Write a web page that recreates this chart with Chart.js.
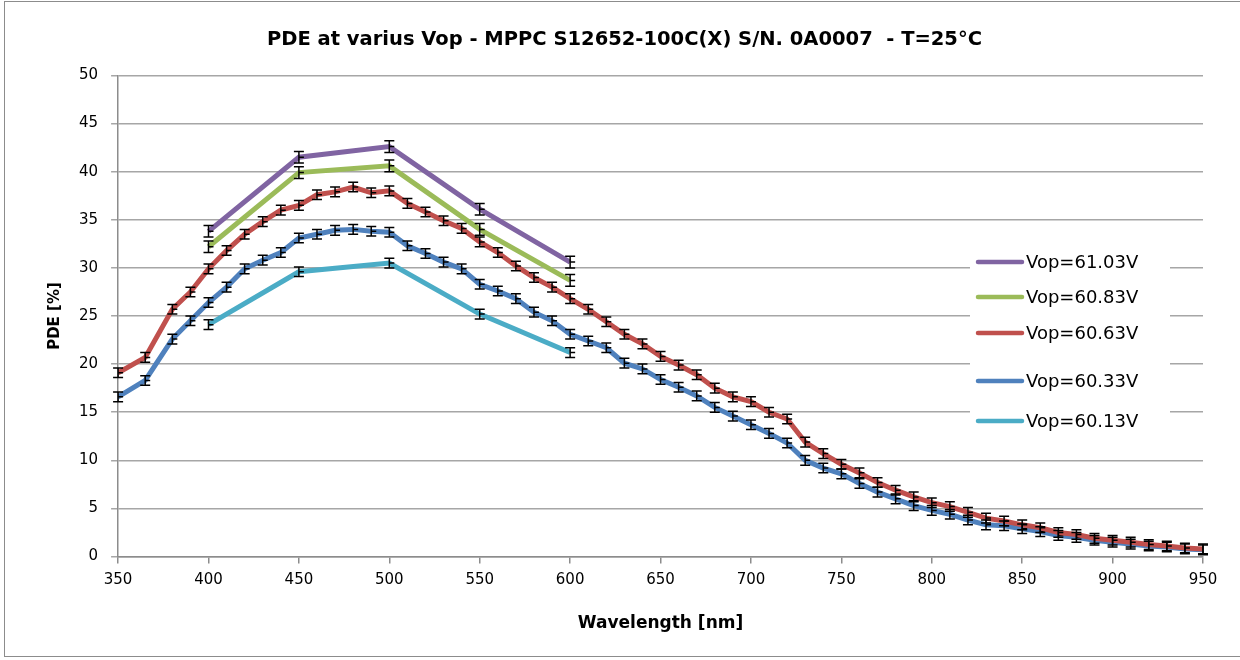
<!DOCTYPE html>
<html>
<head>
<meta charset="utf-8">
<script src="https://cdn.jsdelivr.net/npm/chart.js@4/dist/chart.umd.min.js"></script>
<style>
  html, body { margin: 0; padding: 0; background: #fff; }
  #frame { position: absolute; left: 4px; top: 1px; width: 1250px; height: 654px;
           border-left: 1px solid #8c8c8c; border-top: 1px solid #8c8c8c; border-bottom: 1px solid #8c8c8c; }
  #wrap { position: absolute; left: 0; top: 0; width: 1240px; height: 660px; }
</style>
</head>
<body>
<div id="frame"></div>
<div id="wrap"><canvas id="pdeChart" width="1240" height="660"></canvas></div>
<script>
/* Longueurs d'onde des séries fines (60.63 V et 60.33 V) */
var wlFine = [350, 365, 380, 390, 400, 410, 420, 430, 440, 450, 460, 470, 480, 490, 500,
    510, 520, 530, 540, 550, 560, 570, 580, 590, 600, 610, 620, 630, 640, 650,
    660, 670, 680, 690, 700, 710, 720, 730, 740, 750, 760, 770, 780, 790, 800,
    810, 820, 830, 840, 850, 860, 870, 880, 890, 900, 910, 920, 930, 940, 950];
/* Longueurs d'onde des séries grossières */
var wlCoarse = [400, 450, 500, 550, 600];

var pde6063 = [19.1, 20.7, 25.7, 27.5, 29.9, 31.8, 33.5, 34.8, 36.0, 36.5, 37.6, 37.9, 38.4, 37.8, 38.0,
    36.7, 35.8, 34.9, 34.1, 32.7, 31.6, 30.2, 29.0, 28.0, 26.8, 25.7, 24.4, 23.1, 22.1, 20.8,
    19.9, 18.9, 17.5, 16.6, 16.1, 15.0, 14.3, 11.9, 10.7, 9.6, 8.7, 7.7, 6.9, 6.2, 5.6,
    5.2, 4.6, 4.0, 3.7, 3.3, 3.0, 2.5, 2.3, 1.9, 1.7, 1.5, 1.25, 1.1, 0.9, 0.8];
var pde6033 = [16.6, 18.3, 22.6, 24.5, 26.4, 28.0, 29.9, 30.8, 31.6, 33.1, 33.5, 33.9, 34.0, 33.8, 33.7,
    32.3, 31.5, 30.6, 29.9, 28.3, 27.6, 26.8, 25.4, 24.5, 23.1, 22.4, 21.7, 20.1, 19.5, 18.4,
    17.6, 16.7, 15.5, 14.6, 13.7, 12.8, 11.8, 10.0, 9.2, 8.6, 7.6, 6.7, 6.0, 5.3, 4.8,
    4.4, 3.8, 3.3, 3.2, 2.9, 2.6, 2.2, 2.0, 1.7, 1.5, 1.3, 1.1, 1.0, 0.8, 0.7];
var pde6103 = [33.8, 41.5, 42.6, 36.1, 30.6];
var pde6083 = [32.2, 39.9, 40.6, 34.0, 28.7];
var pde6013 = [24.1, 29.6, 30.5, 25.2, 21.2];

/* Incertitudes (±) par série */
var errors = [0.6, 0.6, 0.5, 0.5, 0.5];

var seriesLabels = ['Vop=61.03V', 'Vop=60.83V', 'Vop=60.63V', 'Vop=60.33V', 'Vop=60.13V'];
var seriesColors = ['#8064A2', '#9BBB59', '#C0504D', '#4F81BD', '#4BACC6'];

var xTicks = [350, 400, 450, 500, 550, 600, 650, 700, 750, 800, 850, 900, 950];
var yTicks = [0, 5, 10, 15, 20, 25, 30, 35, 40, 45, 50];

function pts(xs, ys) {
    return xs.map(function (x, i) { return { x: x, y: ys[i] }; });
}

var allData = [pts(wlCoarse, pde6103), pts(wlCoarse, pde6083), pts(wlFine, pde6063),
               pts(wlFine, pde6033), pts(wlCoarse, pde6013)];

/* Barres d'erreur + légende dans la zone de tracé */
var errorBars = {
    id: 'errorBars',
    afterDatasetsDraw: function (chart) {
        var ctx = chart.ctx, xs = chart.scales.x, ys = chart.scales.y;
        ctx.save();
        ctx.strokeStyle = '#000';
        ctx.lineWidth = 1.5;
        chart.data.datasets.forEach(function (ds, di) {
            var e = errors[di];
            ds.data.forEach(function (p) {
                var px = xs.getPixelForValue(p.x);
                var y1 = ys.getPixelForValue(p.y - e), y2 = ys.getPixelForValue(p.y + e);
                ctx.beginPath();
                ctx.moveTo(px, y1); ctx.lineTo(px, y2);
                ctx.moveTo(px - 5, y1); ctx.lineTo(px + 5, y1);
                ctx.moveTo(px - 5, y2); ctx.lineTo(px + 5, y2);
                ctx.stroke();
            });
        });
        ctx.restore();
    },
    afterDraw: function (chart) {
        var ctx = chart.ctx;
        var rows = [262, 297, 333, 381, 421];
        ctx.save();
        ctx.fillStyle = '#fff';
        ctx.fillRect(970, 246, 200, 192);
        ctx.font = '18px "DejaVu Sans"';
        ctx.textBaseline = 'middle';
        chart.data.datasets.forEach(function (ds, i) {
            ctx.strokeStyle = ds.borderColor;
            ctx.lineWidth = 4.5;
            ctx.lineCap = 'round';
            ctx.beginPath();
            ctx.moveTo(978, rows[i]); ctx.lineTo(1022, rows[i]);
            ctx.stroke();
            ctx.fillStyle = '#000';
            ctx.fillText(ds.label, 1026, rows[i] + 1);
        });
        ctx.restore();
    }
};

new Chart(document.getElementById('pdeChart').getContext('2d'), {
    type: 'line',
    data: {
        datasets: allData.map(function (d, i) {
            return {
                label: seriesLabels[i],
                data: d,
                borderColor: seriesColors[i],
                backgroundColor: seriesColors[i],
                borderWidth: 5,
                tension: 0,
                pointStyle: 'dash',
                pointRadius: 5,
                pointBorderColor: '#000',
                pointBorderWidth: 1.5,
                pointHoverRadius: 5
            };
        })
    },
    options: {
        responsive: false,
        animation: false,
        layout: { padding: { left: 46, right: 37, top: 0, bottom: 26 } },
        plugins: {
            legend: { display: false },
            tooltip: { enabled: false },
            title: {
                display: true,
                text: 'PDE at varius Vop - MPPC S12652-100C(X) S/N. 0A0007  - T=25°C',
                color: '#000',
                font: { family: 'DejaVu Sans', size: 19.5, weight: 'bold' },
                padding: { top: 28, bottom: 24 }
            }
        },
        scales: {
            x: {
                type: 'linear',
                min: 350, max: 950,
                afterBuildTicks: function (s) { s.ticks = xTicks.map(function (v) { return { value: v }; }); },
                ticks: { color: '#000', font: { family: 'DejaVu Sans', size: 15 }, padding: 8 },
                grid: { drawOnChartArea: false, color: '#8c8c8c', tickLength: 7, lineWidth: 1.5 },
                border: { color: '#8c8c8c', width: 1.5 },
                title: { display: true, text: 'Wavelength [nm]', color: '#000',
                         font: { family: 'DejaVu Sans', size: 17, weight: 'bold' }, padding: { top: 16, bottom: 0 } }
            },
            y: {
                min: 0, max: 50,
                afterBuildTicks: function (s) { s.ticks = yTicks.map(function (v) { return { value: v }; }); },
                ticks: { color: '#000', font: { family: 'DejaVu Sans', size: 15 }, padding: 13 },
                grid: { color: '#a6a6a6', tickLength: 7, lineWidth: 1.5 },
                border: { color: '#8c8c8c', width: 1.5 },
                title: { display: true, text: 'PDE [%]', color: '#000',
                         font: { family: 'DejaVu Sans', size: 15, weight: 'bold' }, padding: { top: 0, bottom: 2 } }
            }
        }
    },
    plugins: [errorBars]
});
</script>
</body>
</html>
